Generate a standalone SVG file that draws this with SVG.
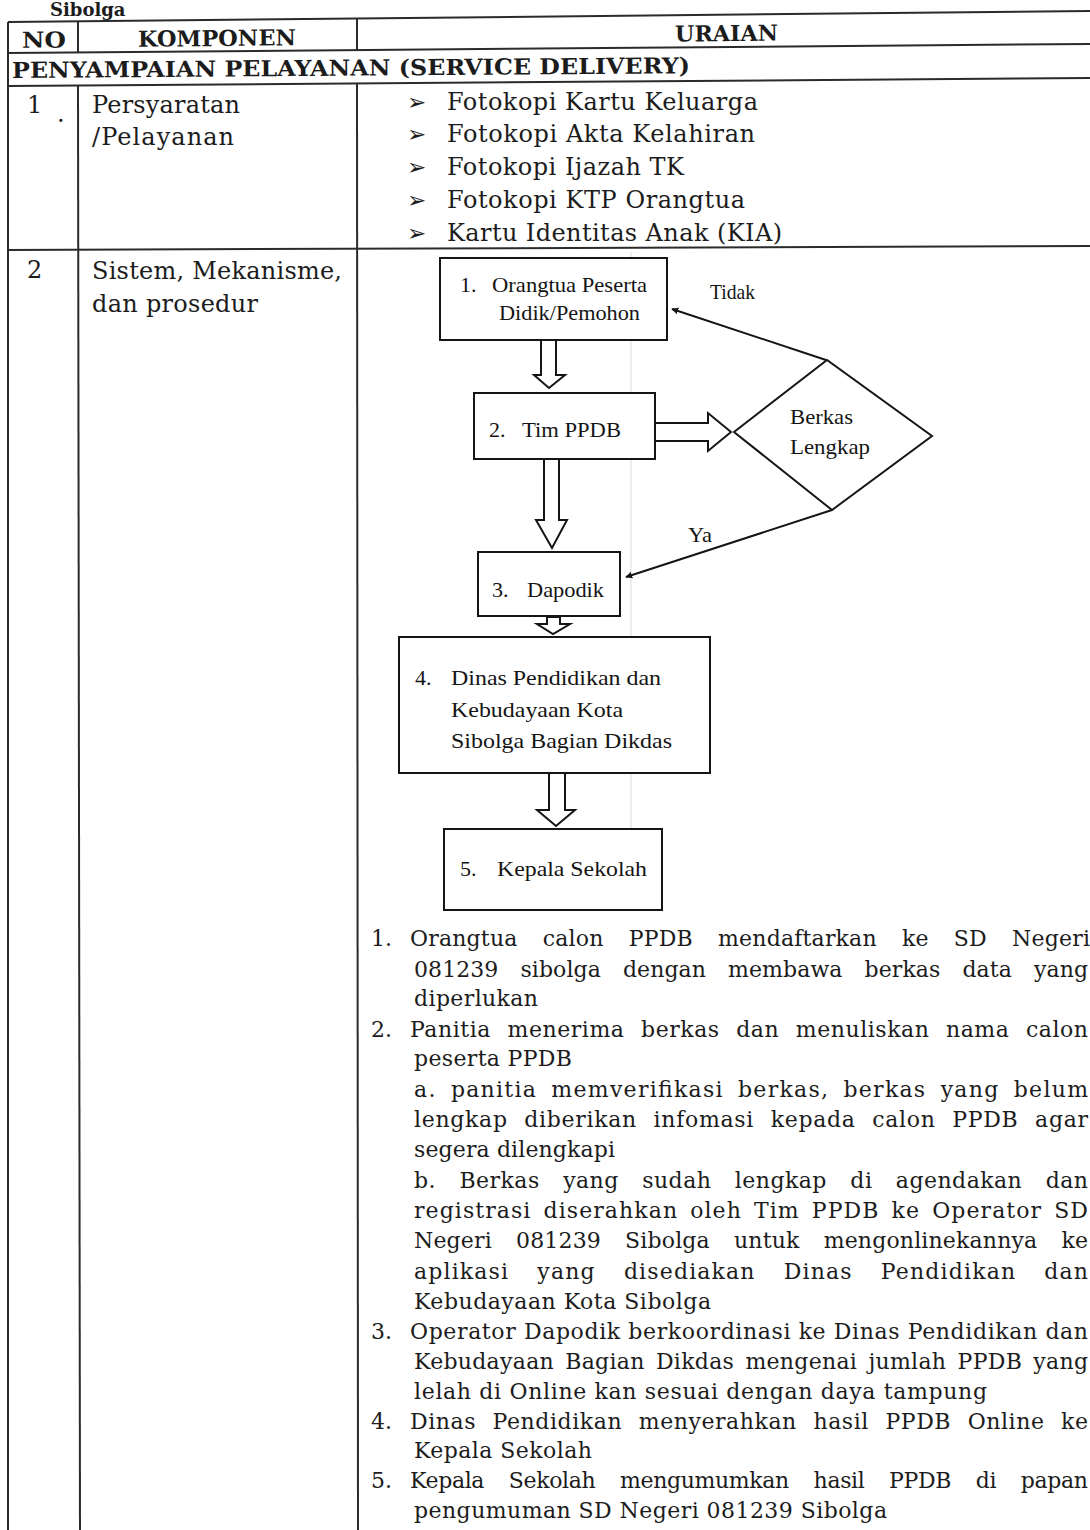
<svg xmlns="http://www.w3.org/2000/svg" width="1090" height="1530" viewBox="0 0 1090 1530">
<style>
.t{font-family:"DejaVu Serif","Liberation Serif",serif;fill:#1c1c1c;}
.b{font-weight:bold;}
.s24{font-size:24px;}
.s22{font-size:22px;}
.fc{font-family:"Liberation Serif","Times New Roman",serif;font-size:22px;fill:#141414;}
.bul{font-family:"DejaVu Sans",sans-serif;font-size:23px;fill:#1c1c1c;}
.grid{stroke:#2b2b2b;stroke-width:2;fill:none;}
.box{fill:#fff;stroke:#151515;stroke-width:2;}
.ba{fill:#fff;stroke:#151515;stroke-width:2;stroke-linejoin:miter;}
.ln{stroke:#151515;stroke-width:2;fill:none;}
</style>
<defs>
<marker id="ah" viewBox="0 0 10 10" refX="9" refY="5" markerWidth="7" markerHeight="7" orient="auto" markerUnits="userSpaceOnUse">
<path d="M0,0 L10,5 L0,10 Z" fill="#151515"/>
</marker>
</defs>
<rect width="1090" height="1530" fill="#ffffff"/>

<!-- top caption -->
<text class="t b" x="50" y="16" font-size="18">Sibolga</text>

<!-- table grid -->
<g id="table">
<line class="grid" x1="8" y1="22" x2="1090" y2="11"/>
<line class="grid" x1="8" y1="53" x2="1090" y2="44"/>
<line class="grid" x1="8" y1="86" x2="1090" y2="78"/>
<line class="grid" x1="8" y1="250" x2="1090" y2="246"/>
<line class="grid" x1="8" y1="22" x2="8" y2="1530"/>
<line class="grid" x1="78" y1="21" x2="78" y2="53"/>
<line class="grid" x1="78" y1="85" x2="80" y2="1530"/>
<line class="grid" x1="357" y1="19" x2="357" y2="50"/>
<line class="grid" x1="357" y1="83" x2="358" y2="1530"/>
<line x1="631" y1="252" x2="631" y2="900" stroke="#dcdcdc" stroke-width="1"/>
</g>

<!-- header -->
<g id="header" transform="rotate(-0.55 8 40)">
<text class="t b s22" x="22" y="48" textLength="44" lengthAdjust="spacingAndGlyphs">NO</text>
<text class="t b s22" x="138" y="48" textLength="158" lengthAdjust="spacingAndGlyphs">KOMPONEN</text>
<text class="t b s22" x="675" y="48" textLength="103" lengthAdjust="spacingAndGlyphs">URAIAN</text>
</g>
<g id="section" transform="rotate(-0.4 8 78)">
<text class="t b s22" x="12" y="78" textLength="678" lengthAdjust="spacingAndGlyphs">PENYAMPAIAN PELAYANAN (SERVICE DELIVERY)</text>
</g>

<!-- row 1 -->
<g id="row1">
<text class="t s24" x="27" y="113">1</text>
<text class="t s24" x="57" y="122">.</text>
<text class="t s24" x="92" y="113" textLength="148" lengthAdjust="spacing">Persyaratan</text>
<text class="t s24" x="92" y="145" textLength="142" lengthAdjust="spacing">/Pelayanan</text>
<text class="bul" x="407" y="110">➢</text>
<text class="bul" x="407" y="142">➢</text>
<text class="bul" x="407" y="175">➢</text>
<text class="bul" x="407" y="208">➢</text>
<text class="bul" x="407" y="241">➢</text>
<text class="t s24" x="447" y="110" textLength="311" lengthAdjust="spacing">Fotokopi Kartu Keluarga</text>
<text class="t s24" x="447" y="142" textLength="308" lengthAdjust="spacing">Fotokopi Akta Kelahiran</text>
<text class="t s24" x="447" y="175" textLength="237" lengthAdjust="spacing">Fotokopi Ijazah TK</text>
<text class="t s24" x="447" y="208" textLength="298" lengthAdjust="spacing">Fotokopi KTP Orangtua</text>
<text class="t s24" x="447" y="241" textLength="335" lengthAdjust="spacing">Kartu Identitas Anak (KIA)</text>
</g>

<!-- row 2 left -->
<g id="row2">
<text class="t s24" x="27" y="278">2</text>
<text class="t s24" x="92" y="279" textLength="250" lengthAdjust="spacing">Sistem, Mekanisme,</text>
<text class="t s24" x="92" y="312" textLength="166" lengthAdjust="spacing">dan prosedur</text>
</g>

<!-- connectors -->
<g id="connectors">
<path class="ba" d="M541,340 V375 H534 L549,388 L565,375 H556 V340 Z"/>
<path class="ba" d="M655,423 H708 V413 L731,432 L708,451 V441 H655 Z"/>
<path class="ba" d="M544,459 V520 H536 L552,548 L567,520 H559 V459 Z"/>
<path class="ba" d="M547,617 V624 H537 L553,634 L570,624 H560 V617 Z"/>
<path class="ba" d="M549,773 V810 H537 L556,826 L575,810 H565 V773 Z"/>
<line class="ln" x1="826" y1="360" x2="672" y2="309" marker-end="url(#ah)"/>
<line class="ln" x1="832" y1="510" x2="626" y2="577" marker-end="url(#ah)"/>
<text class="fc" x="710" y="299" font-size="17" textLength="45" lengthAdjust="spacingAndGlyphs">Tidak</text>
<text class="fc" x="688" y="542" font-size="20" textLength="24" lengthAdjust="spacingAndGlyphs">Ya</text>
</g>

<!-- nodes -->
<g id="node1">
<rect class="box" x="440" y="258" width="227" height="82"/>
<text class="fc" x="460" y="292">1.</text>
<text class="fc" x="492" y="292" textLength="155" lengthAdjust="spacingAndGlyphs">Orangtua Peserta</text>
<text class="fc" x="499" y="320" textLength="141" lengthAdjust="spacingAndGlyphs">Didik/Pemohon</text>
</g>
<g id="node2">
<rect class="box" x="474" y="393" width="181" height="66"/>
<text class="fc" x="489" y="437">2.</text>
<text class="fc" x="522" y="437" textLength="99" lengthAdjust="spacingAndGlyphs">Tim PPDB</text>
</g>
<g id="node3">
<rect class="box" x="478" y="552" width="142" height="64"/>
<text class="fc" x="492" y="597">3.</text>
<text class="fc" x="527" y="597" textLength="77" lengthAdjust="spacingAndGlyphs">Dapodik</text>
</g>
<g id="node4">
<rect class="box" x="399" y="637" width="311" height="136"/>
<text class="fc" x="415" y="685">4.</text>
<text class="fc" x="451" y="685" textLength="210" lengthAdjust="spacingAndGlyphs">Dinas Pendidikan dan</text>
<text class="fc" x="451" y="717" textLength="172" lengthAdjust="spacingAndGlyphs">Kebudayaan Kota</text>
<text class="fc" x="451" y="748" textLength="221" lengthAdjust="spacingAndGlyphs">Sibolga Bagian Dikdas</text>
</g>
<g id="node5">
<rect class="box" x="444" y="829" width="218" height="81"/>
<text class="fc" x="460" y="876">5.</text>
<text class="fc" x="497" y="876" textLength="150" lengthAdjust="spacingAndGlyphs">Kepala Sekolah</text>
</g>
<g id="decision">
<polygon class="box" points="734,432 827,360 932,436 832,510"/>
<text class="fc" x="790" y="424" textLength="63" lengthAdjust="spacingAndGlyphs">Berkas</text>
<text class="fc" x="790" y="454" textLength="80" lengthAdjust="spacingAndGlyphs">Lengkap</text>
</g>

<!-- procedure list -->
<g id="list" class="t s22">
<text x="371" y="946">1.</text>
<text x="410" y="946" word-spacing="18" textLength="680" lengthAdjust="spacing">Orangtua calon PPDB mendaftarkan ke SD Negeri</text>
<text x="414" y="977" word-spacing="15" textLength="674" lengthAdjust="spacing">081239 sibolga dengan membawa berkas data yang</text>
<text x="414" y="1006" textLength="124" lengthAdjust="spacing">diperlukan</text>
<text x="371" y="1037">2.</text>
<text x="410" y="1037" word-spacing="9" textLength="678" lengthAdjust="spacing">Panitia menerima berkas dan menuliskan nama calon</text>
<text x="414" y="1066" textLength="158" lengthAdjust="spacing">peserta PPDB</text>
<text x="414" y="1097" word-spacing="6" textLength="674" lengthAdjust="spacing">a. panitia memverifikasi berkas, berkas yang belum</text>
<text x="414" y="1127" word-spacing="9" textLength="674" lengthAdjust="spacing">lengkap diberikan infomasi kepada calon PPDB agar</text>
<text x="414" y="1157" textLength="201" lengthAdjust="spacing">segera dilengkapi</text>
<text x="414" y="1188" word-spacing="16" textLength="674" lengthAdjust="spacing">b. Berkas yang sudah lengkap di agendakan dan</text>
<text x="414" y="1218" word-spacing="4" textLength="674" lengthAdjust="spacing">registrasi diserahkan oleh Tim PPDB ke Operator SD</text>
<text x="414" y="1248" word-spacing="17" textLength="674" lengthAdjust="spacing">Negeri 081239 Sibolga untuk mengonlinekannya ke</text>
<text x="414" y="1279" word-spacing="20" textLength="674" lengthAdjust="spacing">aplikasi yang disediakan Dinas Pendidikan dan</text>
<text x="414" y="1309" textLength="297" lengthAdjust="spacing">Kebudayaan Kota Sibolga</text>
<text x="371" y="1339">3.</text>
<text x="410" y="1339" textLength="678" lengthAdjust="spacing">Operator Dapodik berkoordinasi ke Dinas Pendidikan dan</text>
<text x="414" y="1369" word-spacing="4" textLength="674" lengthAdjust="spacing">Kebudayaan Bagian Dikdas mengenai jumlah PPDB yang</text>
<text x="414" y="1399" textLength="573" lengthAdjust="spacing">lelah di Online kan sesuai dengan daya tampung</text>
<text x="371" y="1429">4.</text>
<text x="410" y="1429" word-spacing="9" textLength="678" lengthAdjust="spacing">Dinas Pendidikan menyerahkan hasil PPDB Online ke</text>
<text x="414" y="1458" textLength="178" lengthAdjust="spacing">Kepala Sekolah</text>
<text x="371" y="1488">5.</text>
<text x="410" y="1488" word-spacing="18" textLength="678" lengthAdjust="spacing">Kepala Sekolah mengumumkan hasil PPDB di papan</text>
<text x="414" y="1518" textLength="473" lengthAdjust="spacing">pengumuman SD Negeri 081239 Sibolga</text>
</g>
</svg>
